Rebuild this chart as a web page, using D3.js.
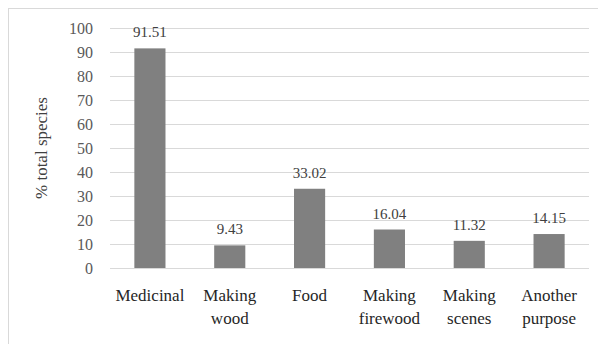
<!DOCTYPE html>
<html>
<head>
<meta charset="utf-8">
<script src="https://cdn.jsdelivr.net/npm/d3@7"></script>
</head>
<body style="margin:0;background:#fff">
<svg id="chart" width="598" height="344" style="display:block"></svg>
<script>
// Share of species per use category
const categories = [
  ["Medicinal"],
  ["Making", "wood"],
  ["Food"],
  ["Making", "firewood"],
  ["Making", "scenes"],
  ["Another", "purpose"]
];
const values = [91.51, 9.43, 33.02, 16.04, 11.32, 14.15];
const yTicks = [0, 10, 20, 30, 40, 50, 60, 70, 80, 90, 100];
const yTitle = "% total species";

const svg = d3.select("#chart");
const margin = { left: 110, right: 9, top: 28, bottom: 76 };
const W = 598, H = 344;
const fontStyle = size => `font-family: 'Liberation Serif', serif !important; font-size: ${size}px !important;`;

// chart frame
svg.append("rect")
  .attr("x", 8.5).attr("y", 8.5)
  .attr("width", W + 10).attr("height", H + 10)
  .attr("fill", "none").attr("stroke", "#d9d9d9").attr("stroke-width", 1);

const x = d3.scaleBand()
  .domain(d3.range(categories.length))
  .range([margin.left, W - margin.right])
  .paddingInner(0.61).paddingOuter(0.305);

const y = d3.scaleLinear().domain([0, 100]).range([H - margin.bottom, margin.top]);

// gridlines
svg.append("g")
  .selectAll("line")
  .data(yTicks)
  .join("line")
  .attr("x1", margin.left).attr("x2", W - margin.right)
  .attr("y1", d => Math.round(y(d)) + 0.5).attr("y2", d => Math.round(y(d)) + 0.5)
  .attr("stroke", "#d9d9d9").attr("stroke-width", 1);

// y axis tick labels
svg.append("g")
  .attr("transform", `translate(${margin.left - 17},0)`)
  .call(d3.axisLeft(y).tickValues(yTicks).tickSize(0).tickPadding(0))
  .call(g => g.select(".domain").remove())
  .call(g => g.selectAll("text")
    .attr("style", fontStyle(16))
    .attr("fill", "#595959"));

// bars
svg.append("g")
  .selectAll("rect")
  .data(values)
  .join("rect")
  .attr("x", (d, i) => x(i))
  .attr("width", x.bandwidth())
  .attr("y", d => y(d))
  .attr("height", d => y(0) - y(d))
  .attr("fill", "#808080");

// value labels
svg.append("g")
  .selectAll("text")
  .data(values)
  .join("text")
  .attr("x", (d, i) => x(i) + x.bandwidth() / 2)
  .attr("y", d => y(d) - 11)
  .attr("text-anchor", "middle")
  .attr("style", fontStyle(15))
  .attr("fill", "#404040")
  .text(d => d.toFixed(2));

// category labels, one text per line
categories.forEach((lines, i) => {
  lines.forEach((line, j) => {
    svg.append("text")
      .attr("x", x(i) + x.bandwidth() / 2)
      .attr("y", 301 + j * 23)
      .attr("text-anchor", "middle")
      .attr("style", fontStyle(17))
      .attr("fill", "#262626")
      .text(line);
  });
});

// y axis title
svg.append("text")
  .attr("transform", `translate(47,${(y(0) + y(100)) / 2}) rotate(-90)`)
  .attr("text-anchor", "middle")
  .attr("style", fontStyle(17))
  .attr("fill", "#404040")
  .text(yTitle);
</script>
</body>
</html>
